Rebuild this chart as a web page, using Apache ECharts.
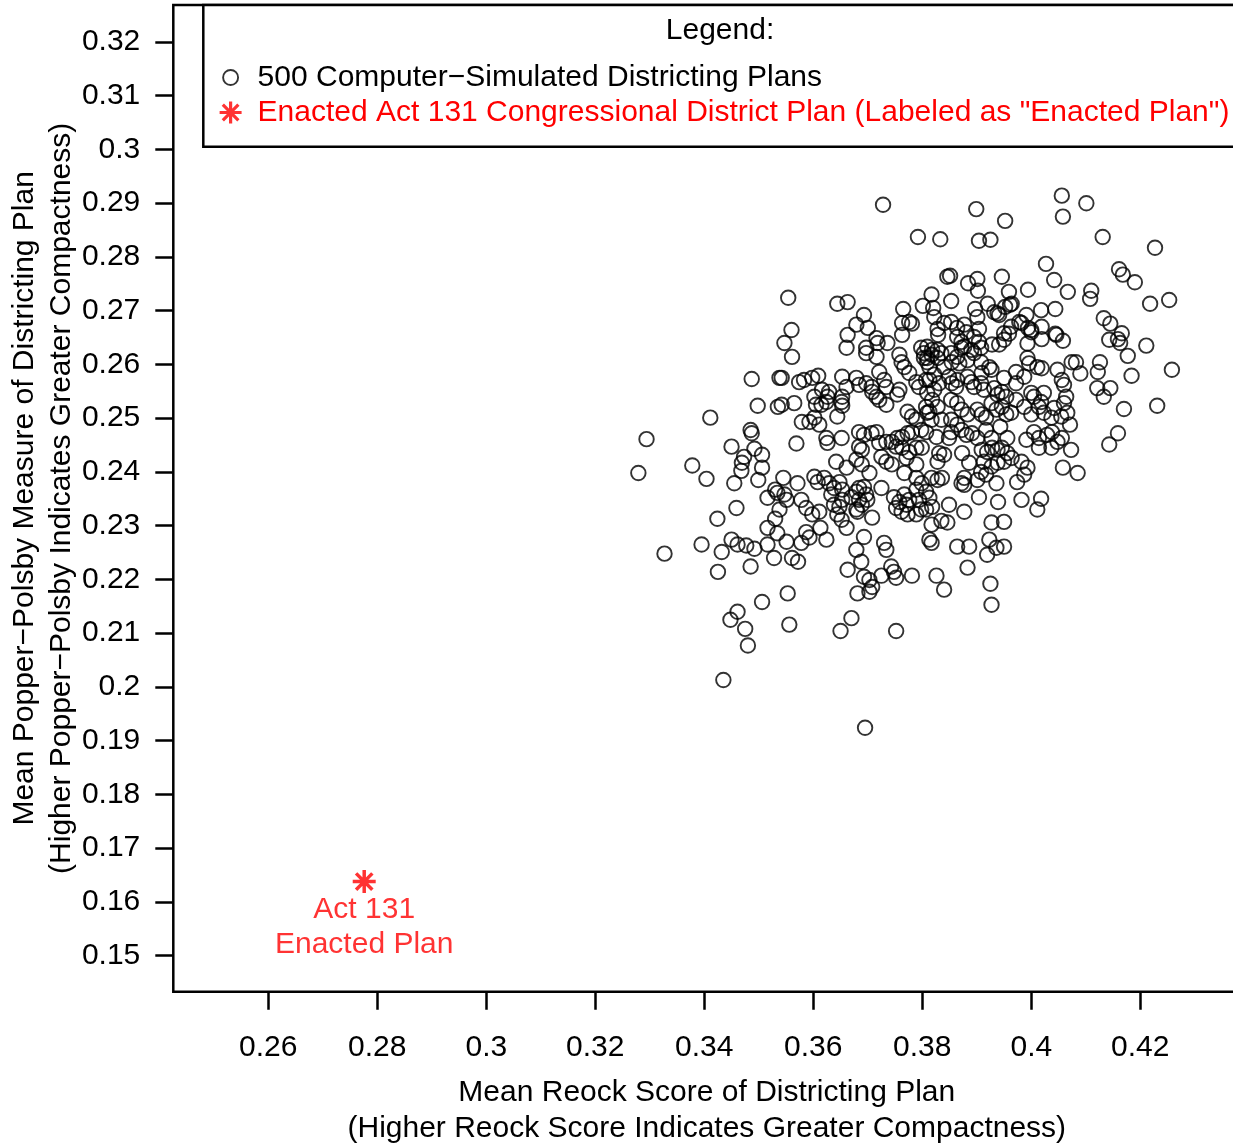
<!DOCTYPE html>
<html><head><meta charset="utf-8">
<script src="https://cdn.jsdelivr.net/npm/echarts@6/dist/echarts.min.js"></script>
<style>html,body{margin:0;padding:0;overflow:hidden;background:#fff}#c{width:1260px;height:1147px}</style>
</head><body><div id="c"></div><script>
// Mean Reock score (x) of each simulated plan
const simulatedReock = [
0.3728,0.4056,0.4101,0.3899,0.3952,0.4058,0.3792,0.3833,0.3904,0.3925,
0.4131,0.4227,0.4027,0.4161,0.4168,0.4190,0.3846,0.3851,0.3901,0.3946,
0.3884,0.4042,0.3902,0.3959,0.3994,0.4067,0.4110,0.4108,0.3554,0.3817,
0.4253,0.4218,0.3853,0.3644,0.3663,0.3801,0.3820,0.3765,0.3897,0.3920,
0.3932,0.3941,0.3952,0.3964,0.3991,0.4018,0.4044,0.3901,0.3822,0.3776,
0.3781,0.3853,0.3840,0.3864,0.3881,0.3904,0.3828,0.3829,0.3963,0.3978,
0.3994,0.4000,0.4019,0.3959,0.4044,0.4058,0.4019,0.3993,0.4133,0.4145,
0.4166,0.4159,0.4143,0.4163,0.4211,0.3693,0.3679,0.3700,0.3560,0.3663,
0.3716,0.3718,0.3736,0.3763,0.3547,0.3661,0.3697,0.3697,0.3716,0.3561,
0.3758,0.3762,0.3798,0.3803,0.3809,0.3950,0.3950,0.3928,0.3941,0.3864,
0.3872,0.3877,0.3895,0.3904,0.3908,0.3890,0.3895,0.3982,0.4000,0.4046,
0.3877,0.3961,0.3938,0.3809,0.3818,0.3828,0.3835,0.3817,0.3803,0.3828,
0.3809,0.3813,0.3853,0.3864,0.3872,0.3854,0.3868,0.3883,0.3840,0.3908,
0.3923,0.3927,0.3909,0.3950,0.3972,0.3972,0.3993,0.3996,0.4011,0.4019,
0.4048,0.4074,0.3987,0.4056,0.4060,0.4177,0.4082,0.4126,0.4258,0.4184,
0.4090,0.4122,0.4121,0.4145,0.4133,0.4170,0.4231,0.3767,0.3776,0.3721,
0.3542,0.3574,0.3583,0.3598,0.3609,0.3653,0.3679,0.3684,0.3697,0.3707,
0.3708,0.3716,0.3730,0.3734,0.3758,0.3754,0.3789,0.3794,0.3807,0.3809,
0.3487,0.3538,0.3822,0.3813,0.3831,0.3822,0.3849,0.3854,0.3862,0.3864,
0.3883,0.3890,0.3895,0.3908,0.3913,0.3932,0.3938,0.3946,0.3954,0.4000,
0.4005,0.4023,0.4018,0.4064,0.4060,0.3661,0.3653,0.3616,0.3626,0.3629,
0.3624,0.3615,0.3602,0.3605,0.3565,0.3542,0.3652,0.3653,0.3644,0.3734,
0.3721,0.3773,0.3781,0.3789,0.3807,0.3809,0.3579,0.3593,0.3602,0.3611,
0.3498,0.3535,0.3411,0.3485,0.3487,0.3294,0.3450,0.3492,0.3506,0.3473,
0.3469,0.3468,0.3506,0.3499,0.3569,0.3378,0.3279,0.3404,0.3455,0.3545,
0.3571,0.3534,0.3530,0.3516,0.3551,0.3578,0.3538,0.3530,0.3459,0.3424,
0.3516,0.3534,0.3587,0.3613,0.3395,0.3818,0.3828,0.3813,0.3817,0.3853,
0.3864,0.3872,0.3883,0.3901,0.3909,0.3917,0.3927,0.3936,0.3946,0.3954,
0.3963,0.3972,0.3987,0.4000,0.4014,0.4023,0.4042,0.4037,0.4055,0.4066,
0.4071,0.3835,0.3853,0.3864,0.3943,0.3763,0.3624,0.3626,0.3652,0.3684,
0.3693,0.3707,0.3716,0.3684,0.3689,0.3721,0.3734,0.3744,0.3754,0.3763,
0.3773,0.3781,0.3798,0.3807,0.3752,0.3763,0.3776,0.3789,0.3799,0.3725,
0.3734,0.3744,0.3771,0.3767,0.3642,0.3661,0.3679,0.3689,0.3703,0.3602,
0.3608,0.3620,0.3629,0.3638,0.3648,0.3653,0.3547,0.3587,0.3598,0.3611,
0.3633,0.3638,0.3648,0.3653,0.3670,0.3679,0.3684,0.3693,0.3697,0.3699,
0.3684,0.3679,0.3681,0.3689,0.3725,0.3644,0.3652,0.3661,0.3708,0.3693,
0.3624,0.3593,0.3578,0.3551,0.3679,0.3730,0.3734,0.3748,0.3758,0.3767,
0.3771,0.3776,0.3752,0.3762,0.3773,0.3789,0.3794,0.3799,0.3798,0.3789,
0.3789,0.3789,0.3826,0.3849,0.3853,0.3872,0.3881,0.3891,0.3901,0.3917,
0.3927,0.3956,0.3991,0.4005,0.4014,0.4029,0.4038,0.4048,0.4056,0.4073,
0.4037,0.4014,0.3831,0.3828,0.3840,0.3873,0.3886,0.3909,0.3919,0.3928,
0.3938,0.3946,0.3956,0.3964,0.3950,0.3938,0.3927,0.3913,0.3908,0.3917,
0.3901,0.3982,0.3993,0.3987,0.3974,0.3936,0.3904,0.3877,0.3872,0.3877,
0.3817,0.3828,0.3836,0.3807,0.3813,0.3818,0.3807,0.3849,0.3877,0.3939,
0.3982,0.4011,0.4018,0.4058,0.4085,0.3927,0.3950,0.3923,0.3936,0.3950,
0.3817,0.3835,0.3846,0.3864,0.3886,0.3813,0.3817,0.4159,0.4143,0.3327,
0.3432,0.3425,0.3485,0.3450,0.3461,0.3477,0.3492,0.3516,0.3528,0.3561,
0.3572,0.3688,0.3663,0.3693,0.3703,0.3725,0.3743,0.3748,0.3752,0.3708,
0.3703,0.3681,0.3553,0.3506,0.3461,0.3448,0.3475,0.3480,0.3556,0.3670,
0.3650,0.3752,0.3435,0.3695,0.3919,0.3883,0.3781,0.3826,0.3840,0.3925,
0.3927
];
// Mean Popper-Polsby score (y) of each simulated plan
const simulatedPolsby = [
0.2897,0.2914,0.2900,0.2889,0.2867,0.2875,0.2837,0.2833,0.2830,0.2832,
0.2837,0.2817,0.2787,0.2777,0.2767,0.2753,0.2763,0.2765,0.2759,0.2763,
0.2751,0.2757,0.2737,0.2735,0.2739,0.2735,0.2737,0.2722,0.2724,0.2730,
0.2720,0.2713,0.2718,0.2713,0.2716,0.2709,0.2705,0.2703,0.2703,0.2713,
0.2697,0.2692,0.2707,0.2713,0.2692,0.2701,0.2703,0.2688,0.2688,0.2679,
0.2676,0.2679,0.2677,0.2668,0.2660,0.2666,0.2666,0.2655,0.2670,0.2679,
0.2668,0.2660,0.2670,0.2657,0.2657,0.2644,0.2647,0.2639,0.2686,0.2676,
0.2658,0.2647,0.2646,0.2640,0.2635,0.2692,0.2674,0.2668,0.2664,0.2655,
0.2649,0.2640,0.2640,0.2655,0.2640,0.2631,0.2631,0.2621,0.2614,0.2614,
0.2618,0.2604,0.2631,0.2621,0.2612,0.2658,0.2646,0.2637,0.2637,0.2651,
0.2642,0.2633,0.2651,0.2642,0.2631,0.2627,0.2621,0.2677,0.2664,0.2655,
0.2674,0.2711,0.2695,0.2633,0.2627,0.2627,0.2621,0.2618,0.2612,0.2612,
0.2604,0.2595,0.2621,0.2614,0.2631,0.2604,0.2602,0.2608,0.2595,0.2604,
0.2595,0.2590,0.2584,0.2575,0.2586,0.2565,0.2612,0.2602,0.2595,0.2593,
0.2590,0.2604,0.2577,0.2571,0.2562,0.2616,0.2604,0.2604,0.2590,0.2579,
0.2583,0.2586,0.2556,0.2556,0.2540,0.2517,0.2523,0.2595,0.2584,0.2586,
0.2575,0.2567,0.2571,0.2575,0.2579,0.2577,0.2575,0.2562,0.2565,0.2558,
0.2549,0.2540,0.2571,0.2558,0.2553,0.2544,0.2567,0.2558,0.2571,0.2547,
0.2573,0.2575,0.2581,0.2571,0.2565,0.2553,0.2577,0.2565,0.2558,0.2571,
0.2577,0.2567,0.2558,0.2565,0.2553,0.2556,0.2544,0.2549,0.2540,0.2547,
0.2540,0.2547,0.2530,0.2540,0.2528,0.2558,0.2540,0.2553,0.2540,0.2549,
0.2530,0.2525,0.2540,0.2525,0.2528,0.2525,0.2530,0.2523,0.2503,0.2525,
0.2534,0.2512,0.2503,0.2497,0.2521,0.2510,0.2493,0.2493,0.2501,0.2488,
0.2523,0.2521,0.2501,0.2478,0.2472,0.2461,0.2447,0.2443,0.2432,0.2428,
0.2417,0.2402,0.2408,0.2385,0.2453,0.2412,0.2398,0.2387,0.2379,0.2389,
0.2379,0.2361,0.2367,0.2352,0.2348,0.2348,0.2330,0.2313,0.2333,0.2313,
0.2296,0.2286,0.2288,0.2296,0.2265,0.2534,0.2521,0.2512,0.2497,0.2534,
0.2528,0.2516,0.2507,0.2516,0.2507,0.2501,0.2528,0.2516,0.2521,0.2507,
0.2510,0.2534,0.2521,0.2507,0.2521,0.2510,0.2519,0.2501,0.2503,0.2510,
0.2488,0.2497,0.2497,0.2488,0.2484,0.2677,0.2463,0.2454,0.2463,0.2474,
0.2469,0.2472,0.2474,0.2447,0.2441,0.2454,0.2456,0.2456,0.2463,0.2465,
0.2472,0.2474,0.2478,0.2474,0.2447,0.2445,0.2437,0.2445,0.2445,0.2428,
0.2419,0.2414,0.2426,0.2398,0.2419,0.2408,0.2423,0.2414,0.2398,0.2391,
0.2381,0.2389,0.2379,0.2370,0.2381,0.2367,0.2358,0.2333,0.2321,0.2326,
0.2358,0.2339,0.2335,0.2348,0.2353,0.2363,0.2370,0.2372,0.2358,0.2348,
0.2348,0.2330,0.2326,0.2339,0.2370,0.2321,0.2311,0.2296,0.2315,0.2279,
0.2274,0.2278,0.2268,0.2270,0.2255,0.2268,0.2255,0.2353,0.2344,0.2358,
0.2339,0.2348,0.2333,0.2326,0.2321,0.2367,0.2348,0.2379,0.2330,0.2321,
0.2414,0.2389,0.2465,0.2463,0.2474,0.2478,0.2469,0.2472,0.2463,0.2478,
0.2463,0.2463,0.2460,0.2474,0.2463,0.2469,0.2474,0.2456,0.2463,0.2441,
0.2445,0.2445,0.2435,0.2419,0.2432,0.2435,0.2417,0.2441,0.2437,0.2445,
0.2441,0.2445,0.2435,0.2426,0.2419,0.2417,0.2410,0.2419,0.2400,0.2395,
0.2385,0.2419,0.2408,0.2395,0.2381,0.2379,0.2353,0.2376,0.2379,0.2389,
0.2389,0.2385,0.2389,0.2363,0.2352,0.2335,0.2330,0.2339,0.2326,0.2344,
0.2348,0.2330,0.2350,0.2408,0.2398,0.2306,0.2307,0.2274,0.2259,0.2261,
0.2302,0.2309,0.2306,0.2261,0.2261,0.2274,0.2268,0.2472,0.2451,0.2248,
0.2251,0.2214,0.2224,0.2274,0.2265,0.2263,0.2257,0.2265,0.2240,0.2240,
0.2233,0.2233,0.2218,0.2205,0.2199,0.2207,0.2224,0.2214,0.2203,0.2186,
0.2177,0.2174,0.2174,0.2158,0.2140,0.2125,0.2108,0.2077,0.2116,0.2128,
0.2104,0.2104,0.2013,0.1924,0.2246,0.2222,0.2207,0.2207,0.2181,0.2192,
0.2153
];
const enactedReock = [0.2776];
const enactedPolsby = [0.1638];
const xTickValues = [0.26, 0.28, 0.3, 0.32, 0.34, 0.36, 0.38, 0.4, 0.42];
const yTickValues = [0.15, 0.16, 0.17, 0.18, 0.19, 0.2, 0.21, 0.22, 0.23, 0.24, 0.25, 0.26, 0.27, 0.28, 0.29, 0.3, 0.31, 0.32];
const simulatedName = '500 Computer\u2212Simulated Districting Plans';
const enactedName = 'Enacted Act 131 Congressional District Plan (Labeled as "Enacted Plan")';
const enactedLabel = 'Act 131\nEnacted Plan';
const legendTitle = 'Legend:';
const xTitle = 'Mean Reock Score of Districting Plan\n(Higher Reock Score Indicates Greater Compactness)';
const yTitle = 'Mean Popper\u2212Polsby Measure of Districting Plan\n(Higher Popper\u2212Polsby Indicates Greater Compactness)';

const FONT = '"Liberation Sans", Arial, Helvetica, sans-serif';
const FS = 30;
const RED = '#FF0000';
const asterisk = 'path://M0,10L20,10M10,0L10,20M2.93,2.93L17.07,17.07M2.93,17.07L17.07,2.93';
const ringIcon = 'path://M0,0M22,22M18.5,11A7.5,7.5 0 1 1 3.5,11A7.5,7.5 0 1 1 18.5,11Z';

const chart = echarts.init(document.getElementById('c'), null, {renderer: 'canvas'});
const simData = simulatedReock.map((x, i) => [x, simulatedPolsby[i]]);
const enactedData = enactedReock.map((x, i) => [x, enactedPolsby[i]]);

chart.setOption({
  animation: false,
  backgroundColor: '#fff',
  textStyle: {fontFamily: FONT},
  grid: {left: 173.3, top: 5, width: 1067, height: 986.7, show: true, borderColor: '#000', borderWidth: 2.5,
         containLabel: false, outerBoundsMode: 'none'},
  xAxis: {
    type: 'value', min: 0.24257, max: 0.43835,
    axisLine: {show: false}, splitLine: {show: false},
    axisTick: {show: true, inside: false, length: 18, lineStyle: {color: '#000', width: 2.5}, customValues: xTickValues},
    axisLabel: {customValues: xTickValues, formatter: v => String(v), fontSize: FS, color: '#000', margin: 41, fontFamily: FONT},
    name: xTitle, nameLocation: 'middle', nameGap: 83, nameMoveOverlap: false,
    nameTextStyle: {fontSize: FS, lineHeight: 36, color: '#000', fontFamily: FONT}
  },
  yAxis: {
    type: 'value', min: 0.1433, max: 0.32687,
    axisLine: {show: false}, splitLine: {show: false},
    axisTick: {show: true, inside: false, length: 18, lineStyle: {color: '#000', width: 2.5}, customValues: yTickValues},
    axisLabel: {customValues: yTickValues, formatter: v => String(v), fontSize: FS, color: '#000', margin: 33, fontFamily: FONT},
    name: yTitle, nameLocation: 'middle', nameGap: 93, nameRotate: 90, nameMoveOverlap: false,
    nameTextStyle: {fontSize: FS, lineHeight: 37, color: '#000', fontFamily: FONT}
  },
  legend: {
    orient: 'vertical', left: 218, top: 60, padding: 0, itemGap: 0,
    itemWidth: 44, itemHeight: 22, selectedMode: false, z: 6,
    textStyle: {fontSize: FS, lineHeight: 35, color: '#000', fontFamily: FONT},
    data: [
      {name: simulatedName, icon: ringIcon, itemStyle: {color: 'rgba(0,0,0,0)', borderColor: '#000', borderWidth: 1.9}},
      {name: enactedName, icon: asterisk, itemStyle: {color: 'rgba(0,0,0,0)', borderColor: RED, borderWidth: 3.2}, textStyle: {color: RED}}
    ]
  },
  graphic: [
    {type: 'rect', z: 5, shape: {x: 203.3, y: 5, width: 1034, height: 141.7}, style: {fill: '#fff', stroke: '#000', lineWidth: 2.5}},
    {type: 'text', z: 7, x: 720, y: 31, style: {text: legendTitle, fontSize: FS, fontFamily: FONT, fill: '#000', textAlign: 'center', textVerticalAlign: 'middle'}}
  ],
  series: [
    {
      name: simulatedName, type: 'scatter', data: simData,
      symbol: 'circle', symbolSize: 14.5,
      itemStyle: {color: 'rgba(0,0,0,0)', borderColor: '#000', borderWidth: 1.9},
      emphasis: {disabled: true}, silent: true
    },
    {
      name: enactedName, type: 'scatter', data: enactedData,
      symbol: asterisk, symbolSize: 23, symbolKeepAspect: true,
      itemStyle: {color: 'rgba(0,0,0,0)', borderColor: RED, borderWidth: 3.5},
      label: {show: true, position: 'bottom', distance: -3, formatter: enactedLabel, fontSize: FS, lineHeight: 35, color: RED, fontFamily: FONT, align: 'center'},
      emphasis: {disabled: true}, silent: true
    }
  ]
});
</script></body></html>
